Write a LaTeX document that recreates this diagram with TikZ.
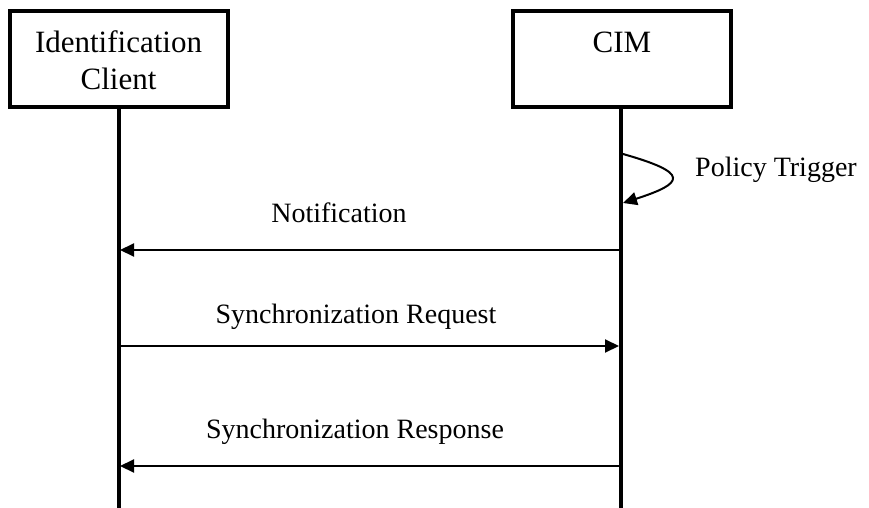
\documentclass[tikz,border=0pt]{standalone}
\usepackage{fontspec}
\setmainfont{Liberation Serif}
\usetikzlibrary{arrows.meta}
\begin{document}
\begin{tikzpicture}[x=1pt,y=-1pt,
  actor/.style={draw,line width=4pt,minimum width=218pt,minimum height=96pt,inner sep=0pt},
  boxtext/.style={font=\fontsize{31}{37}\selectfont,anchor=base,inner sep=0pt,align=center},
  lifeline/.style={line width=4pt},
  msg/.style={line width=2pt,-{Triangle[length=14pt,width=13pt]}},
  msglabel/.style={font=\fontsize{28}{32}\selectfont,anchor=base,inner sep=0pt}]
\useasboundingbox (0,0) rectangle (869,508);
\node[actor] (ic) at (118.5,59) {};
\node[actor] (cim) at (622,59.5) {};
\node[boxtext] (ict) at (118.5,90) {Identification\\Client};
\node[boxtext] (cimt) at (622,53) {CIM};
\coordinate (icb) at (118.5,508);
\coordinate (cimb) at (621,508);
\draw[lifeline] (ic.south) -- (icb);
\draw[lifeline] (cim.south -| cimb) -- (cimb);
% self loop
\coordinate (ls) at (623,154);
\coordinate (le) at (623,203);
\draw[msg] (ls) .. controls (690,173) and (685,183) .. (le);
\node[msglabel,anchor=base west] (pt) at (695,176) {Policy Trigger};
% messages
\coordinate (n1) at (621,250);
\coordinate (n2) at (120,250);
\draw[msg] (n1) -- (n2);
\node[msglabel] (nt) at (339,222) {Notification};
\coordinate (r1) at (118.5,346);
\coordinate (r2) at (619,346);
\draw[msg] (r1) -- (r2);
\node[msglabel] (rt) at (356,323) {Synchronization Request};
\coordinate (s1) at (621,466);
\coordinate (s2) at (120,466);
\draw[msg] (s1) -- (s2);
\node[msglabel] (st) at (355,438) {Synchronization Response};
\end{tikzpicture}
\end{document}
